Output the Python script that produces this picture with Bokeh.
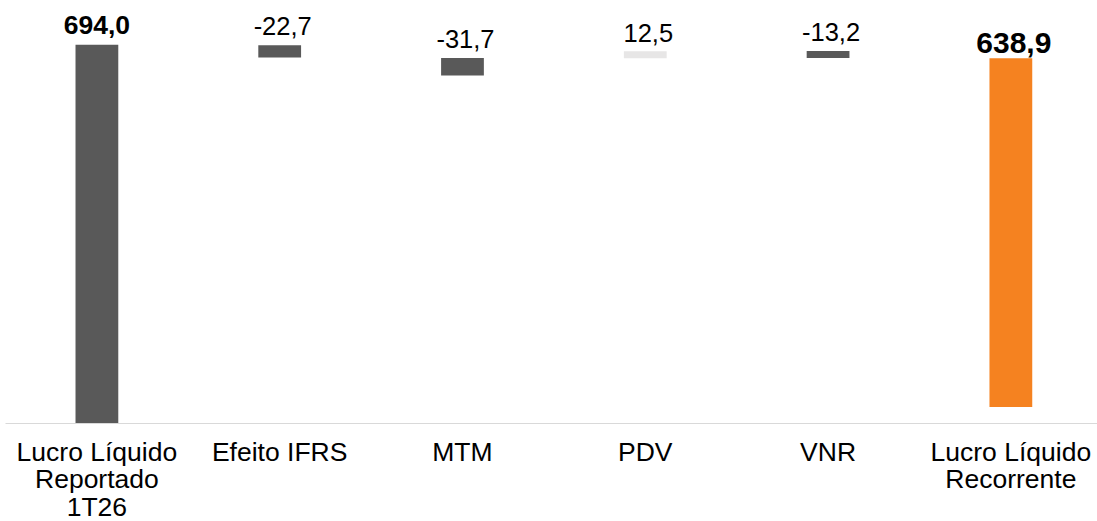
from bokeh.plotting import figure
from bokeh.models import Range1d, FixedTicker
from bokeh.core.properties import value
from bokeh.embed import file_html
from bokeh.resources import INLINE

# ---- data ----
categories = ["Lucro Líquido\nReportado\n1T26", "Efeito IFRS", "MTM", "PDV", "VNR",
              "Lucro Líquido\nRecorrente"]
values = [694.0, -22.7, -31.7, 12.5, -13.2, 638.9]
# bottom of each floating bar, as drawn in the reference
bar_base = [0.0, 670.5, 637.8, 669.3, 669.5, 30.2]

# ---- styles ----
colors = ["#595959", "#595959", "#595959", "#E7E6E6", "#595959", "#F58220"]
FONT = "Liberation Sans"
FRAME_W, FRAME_H = 1092, 423
Y_END = 775.0
unit_per_px = Y_END / FRAME_H

xs = list(range(len(categories)))
tops = [b + abs(v) for b, v in zip(bar_base, values)]
labels = [f"{v:.1f}".replace(".", ",") for v in values]

p = figure(frame_width=FRAME_W, frame_height=FRAME_H, output_backend="svg",
           toolbar_location=None, y_axis_location=None,
           x_range=Range1d(-0.5, 5.474), y_range=Range1d(0, Y_END),
           min_border_left=5, min_border_right=0, min_border_top=0, min_border_bottom=0)

p.vbar(x=xs, bottom=bar_base, top=tops, width=0.234, fill_color=colors, line_color=None)

# value labels: totals bold, deltas regular
gaps = [19.5, 19.5, 19, 18.5, 19, 15]
label_y = [t + g * unit_per_px for t, g in zip(tops, gaps)]
mid = slice(1, 5)
p.text(x=xs[mid], y=label_y[mid], text=labels[mid], text_align="center",
       text_baseline="alphabetic", text_font=value(FONT), text_font_size="25.5px",
       text_color="#000000", x_offset=3)
p.text(x=[xs[0]], y=[label_y[0]], text=[labels[0]], text_align="center",
       text_baseline="alphabetic", text_font=value(FONT), text_font_size="26.5px",
       text_font_style="bold", text_color="#000000")
p.text(x=[xs[5]], y=[label_y[5]], text=[labels[5]], text_align="center",
       text_baseline="alphabetic", text_font=value(FONT), text_font_size="30px",
       text_font_style="bold", text_color="#000000", x_offset=3)

ax = p.xaxis[0]
ax.ticker = FixedTicker(ticks=xs)
ax.major_label_overrides = {i: c for i, c in zip(xs, categories)}
ax.major_tick_line_color = None
ax.minor_tick_line_color = None
ax.major_tick_in = 0
ax.major_tick_out = 0
ax.axis_line_color = "#D9D9D9"
ax.major_label_text_font = FONT
ax.major_label_text_font_size = "26.5px"
ax.major_label_text_color = "#000000"
ax.major_label_text_line_height = 0.93
ax.major_label_standoff = 13

p.grid.visible = False
p.outline_line_color = None
p.background_fill_color = "white"
p.border_fill_color = "white"

open("out.html", "w").write(file_html(p, INLINE))
